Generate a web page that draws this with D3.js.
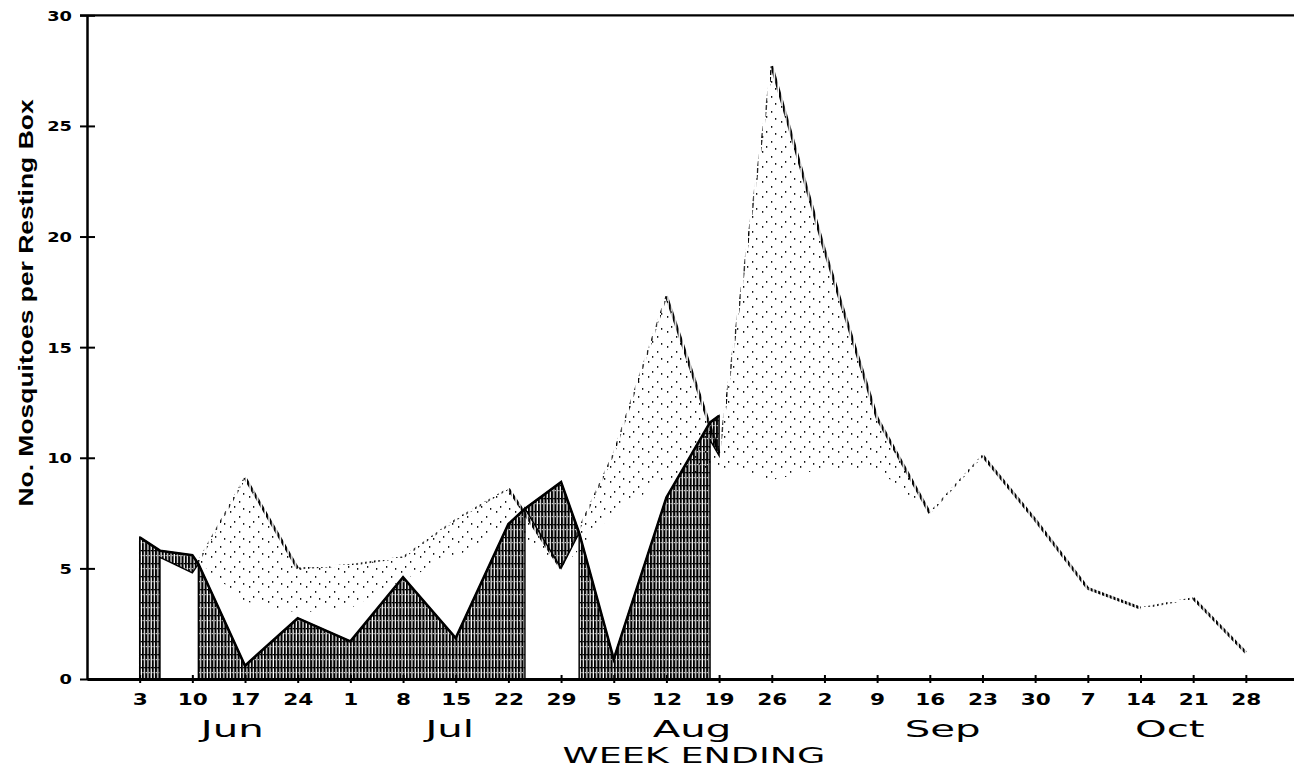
<!DOCTYPE html>
<html><head><meta charset="utf-8">
<script src="https://cdn.jsdelivr.net/npm/d3@7"></script>
<style>body{margin:0;background:#fff} svg{display:block}</style>
</head><body>
<svg id="c" width="1294" height="770"></svg>
<script>
// ---------- data (days after Jun 3) ----------
const weekDays   = [0,7,14,21,28,35,42,49,56,63,70,77,84,91,98,105,112,119,126,133,140,147];
const weekLabels = ["3","10","17","24","1","8","15","22","29","5","12","19","26","2","9","16","23","30","7","14","21","28"];
const months     = ["Jun","Jul","Aug","Sep","Oct"];
const monthDays  = [12.3, 41.2, 73.4, 106.7, 136.9];
const yTicks     = [0,5,10,15,20,25,30];

// dark (hatched) series: top value and lower edge of the hatched fill
const darkDays = [0, 2.7, 2.7, 7, 7.8, 7.8, 14, 21, 28, 35, 42, 49, 51.2, 51.2, 56, 58.4, 58.4, 63, 70, 75.8, 75.8, 77];
const darkTop  = [6.4, 5.8, 5.8, 5.6, 5.2, 5.2, 0.6, 2.75, 1.7, 4.6, 1.85, 7.0, 7.7, 7.7, 8.9, 6.6, 6.6, 0.9, 8.2, 11.6, 11.6, 11.9];
const darkBase = [0, 0, 5.5, 4.8, 5.2, 0, 0, 0, 0, 0, 0, 0, 0, 7.7, 5.0, 6.6, 0, 0, 0, 0, 10.8, 10.1];

// light (stippled) series
const lightDays = [7.8, 14, 21, 28, 35, 42, 49, 56, 63, 70, 77, 84, 91, 98, 105, 112, 119, 126, 133, 140, 147];
const lightVals = [5.3, 9.1, 5.0, 5.15, 5.5, 7.2, 8.6, 5.0, 10.2, 17.3, 10.2, 27.7, 19.4, 11.8, 7.5, 10.1, 7.2, 4.1, 3.2, 3.65, 1.2];
// lower extent of the sparse stipple under the light line (Jun 10 .. Sep 16)
const stippleFloor = [5.3, 3.5, 3.0, 3.2, 4.5, 5.5, 7.0, 5.0, 7.5, 9.0, 9.6, 9.0, 9.5, 9.5, 7.5];

// ---------- setup ----------
const svg = d3.select('#c');
const x = d3.scaleLinear().domain([-7, 153.4]).range([87, 1294]);
const y = d3.scaleLinear().domain([0, 30]).range([679, 15.3]);

const defs = svg.append('defs');
const hatch = defs.append('pattern').attr('id','hatch').attr('patternUnits','userSpaceOnUse')
  .attr('width',3.3).attr('height',13);
hatch.append('rect').attr('x',0).attr('y',0).attr('width',2.1).attr('height',13).attr('fill','#000');
hatch.append('rect').attr('x',2.1).attr('y',4).attr('width',1.2).attr('height',1.3).attr('fill','#000');
hatch.append('rect').attr('x',0.6).attr('y',9).attr('width',0.9).attr('height',1.2).attr('fill','#fff');

const stip = defs.append('pattern').attr('id','stip').attr('patternUnits','userSpaceOnUse')
  .attr('width',19).attr('height',15);
[[2,1],[11,6],[6,11],[15,13]].forEach(p =>
  stip.append('rect').attr('x',p[0]).attr('y',p[1]).attr('width',1.3).attr('height',1.8).attr('fill','#111'));

const vline = defs.append('pattern').attr('id','vline').attr('patternUnits','userSpaceOnUse')
  .attr('width',3.8).attr('height',10);
vline.append('rect').attr('x',0).attr('y',0).attr('width',2.2).attr('height',10).attr('fill','#000');

const vthin = defs.append('pattern').attr('id','vthin').attr('patternUnits','userSpaceOnUse')
  .attr('width',4.4).attr('height',7);
vthin.append('rect').attr('x',0).attr('y',0).attr('width',1.4).attr('height',5).attr('fill','#000');

function stretch(sel, f){
  sel.each(function(){
    const w = this.getComputedTextLength();
    this.setAttribute('textLength', w*f);
    this.setAttribute('lengthAdjust','spacingAndGlyphs');
  });
}

// ---------- light series ----------
const light = lightDays.map((d,i)=>({day:d, v:lightVals[i]}));
const stipData = stippleFloor.map((f,i)=>({day:lightDays[i], v:lightVals[i], floor:f}));

svg.append('path').datum(stipData)
  .attr('d', d3.area().x(d=>x(d.day)).y0(d=>y(d.floor)).y1(d=>y(d.v)))
  .attr('fill','url(#stip)');

// ---------- dark series ----------
const dark = darkDays.map((d,i)=>({day:d, top:darkTop[i], base:darkBase[i]}));
svg.append('path').datum(dark)
  .attr('d', d3.area().x(d=>x(d.day)).y0(d=>y(d.base)).y1(d=>y(d.top)))
  .attr('fill','url(#hatch)').attr('stroke','#000').attr('stroke-width',1.4);
svg.append('path').datum(dark)
  .attr('d', d3.line().x(d=>x(d.day)).y(d=>y(d.top)))
  .attr('fill','none').attr('stroke','#000').attr('stroke-width',2.6);

// light line on top: heavy on falling legs, light on rising legs
const segs = d3.pairs(light);
svg.append('g').selectAll('path').data(segs).join('path')
  .attr('d', s => d3.line().x(d=>x(d.day)).y(d=>y(d.v))(s))
  .attr('fill','none')
  .attr('stroke', s => s[1].v < s[0].v ? 'url(#vline)' : 'url(#vthin)')
  .attr('stroke-width', s => s[1].v < s[0].v ? 3 : 2);

// ---------- axes ----------
const gx = svg.append('g').attr('transform',`translate(0,${y(0)})`)
  .call(d3.axisBottom(x).tickValues(weekDays).tickFormat((d,i)=>weekLabels[i]).tickSize(4).tickSizeOuter(0));
gx.select('.domain').attr('stroke','#000').attr('stroke-width',3);
gx.selectAll('.tick line').attr('y1',-4).attr('y2',4).attr('stroke','#000').attr('stroke-width',2);
gx.selectAll('.tick text').attr('y',26).attr('dy',0)
  .style('font-family','DejaVu Sans').style('font-weight','bold').style('font-size','16px').attr('fill','#000');
stretch(gx.selectAll('.tick text'), 1.35);

const gy = svg.append('g').attr('transform',`translate(${x(-7)},0)`)
  .call(d3.axisLeft(y).tickValues(yTicks).tickSize(7).tickSizeOuter(0));
gy.select('.domain').attr('stroke','#000').attr('stroke-width',2.5);
gy.selectAll('.tick line').attr('x1',-7).attr('x2',8).attr('stroke','#000').attr('stroke-width',2);
gy.selectAll('.tick text').attr('x',-15).attr('dy','0.36em')
  .style('font-family','DejaVu Sans').style('font-weight','bold').style('font-size','13.5px').attr('fill','#000');
stretch(gy.selectAll('.tick text'), 1.32);

// top frame line
svg.append('line').attr('x1', x(-7)-7).attr('x2', x(153.4)).attr('y1', y(30)).attr('y2', y(30))
  .attr('stroke','#000').attr('stroke-width',2.2);

// month labels
const ml = svg.append('g').selectAll('text').data(months).join('text')
  .attr('x',(d,i)=>x(monthDays[i])).attr('y',737).attr('text-anchor','middle')
  .style('font-family','DejaVu Sans').style('font-size','23px').attr('fill','#000').text(d=>d);
stretch(ml, 1.75);

const wt = svg.append('text').attr('x',694).attr('y',763).attr('text-anchor','middle')
  .style('font-family','DejaVu Sans').style('font-size','22px').attr('fill','#000').text('WEEK ENDING');
stretch(wt, 1.66);

const yl = svg.append('text').attr('transform','translate(33,303) rotate(-90)').attr('text-anchor','middle')
  .style('font-family','Liberation Sans Narrow, Liberation Sans').style('font-weight','bold').style('font-size','21px')
  .attr('fill','#000').text('No. Mosquitoes per Resting Box');
stretch(yl, 1.26);
</script>
</body></html>
